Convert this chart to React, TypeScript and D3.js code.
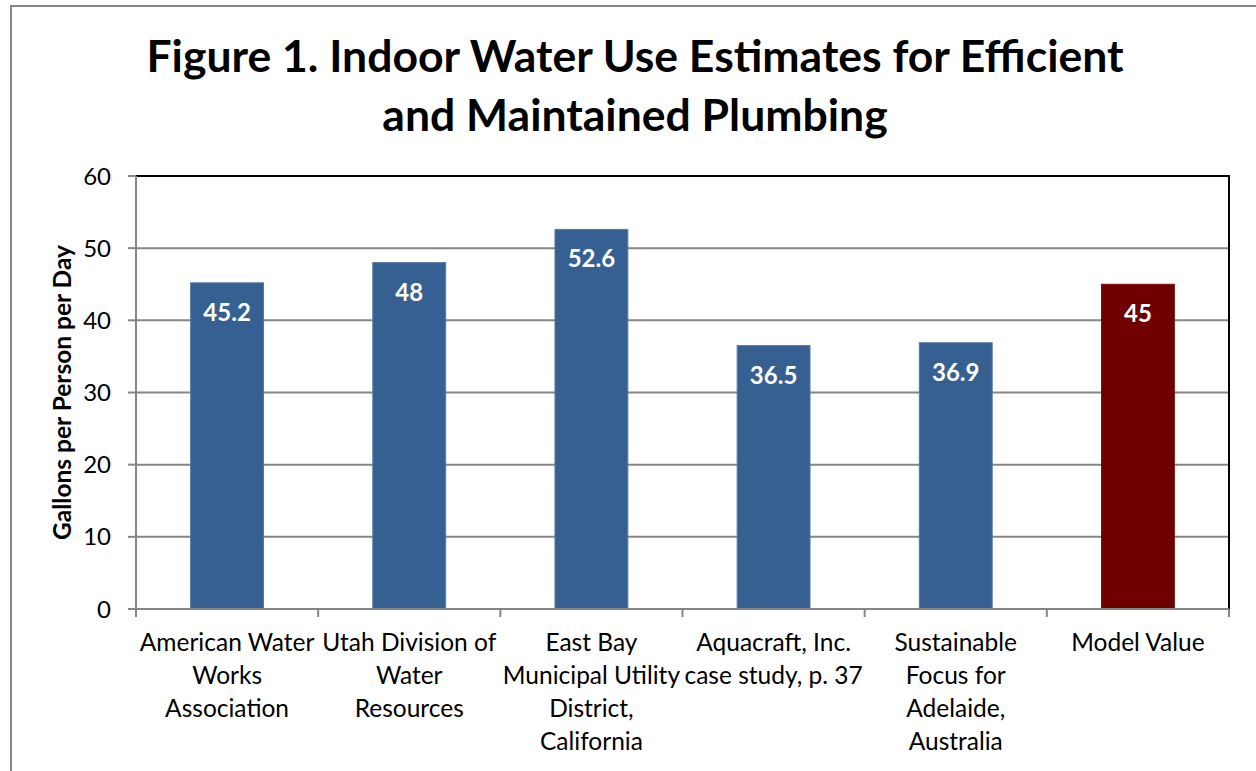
import * as d3 from 'd3';

const categories: string[][] = [
  ['American Water', 'Works', 'Association'],
  ['Utah Division of', 'Water', 'Resources'],
  ['East Bay', 'Municipal Utility', 'District,', 'California'],
  ['Aquacraft, Inc.', 'case study, p. 37'],
  ['Sustainable', 'Focus for', 'Adelaide,', 'Australia'],
  ['Model Value'],
];
const values = [45.2, 48, 52.6, 36.5, 36.9, 45];
const barColors = ['#376092', '#376092', '#376092', '#376092', '#376092', '#700000'];
const yTicks = [0, 10, 20, 30, 40, 50, 60];
const titleLines = ['Figure 1. Indoor Water Use Estimates for Efficient', 'and Maintained Plumbing'];
const yLabel = 'Gallons per Person per Day';

const W = 1256;
const H = 771;
const font = 'Lato, "Open Sans", sans-serif';

export default function App() {
  const plot = { left: 136, top: 176, right: 1229, bottom: 609 };

  const x = d3
    .scaleBand<number>()
    .domain(d3.range(values.length))
    .range([plot.left, plot.right]);

  const y = d3.scaleLinear().domain([0, 60]).range([plot.bottom, plot.top]);

  // Excel gap width 150%: bar = band / 2.5
  const barW = x.bandwidth() / 2.5;
  const bounds = d3.range(values.length + 1).map((i) => plot.left + i * x.step());

  return (
    <svg
      width={W}
      height={H}
      style={{ position: 'absolute', left: 0, top: 0, background: '#fff' }}
      fontFamily={font}
    >
      {/* outer frame */}
      <rect x={11} y={6} width={W} height={H} fill="#fff" stroke="#868686" strokeWidth={2} />

      {/* title */}
      {titleLines.map((t, i) => (
        <text
          key={t}
          x={635}
          y={72 + i * 59}
          textAnchor="middle"
          fontSize={44.5}
          fontWeight={700}
          fill="#000"
        >
          {t}
        </text>
      ))}

      {/* grid lines */}
      {yTicks.slice(1).map((t) => (
        <line
          key={t}
          x1={plot.left}
          x2={plot.right}
          y1={y(t)}
          y2={y(t)}
          stroke="#868686"
          strokeWidth={2}
        />
      ))}

      {/* plot border top + right */}
      <polyline
        points={`${plot.left},${plot.top} ${plot.right},${plot.top} ${plot.right},${plot.bottom}`}
        fill="none"
        stroke="#000"
        strokeWidth={2}
      />

      {/* bars */}
      {values.map((v, i) => {
        const cx = (x(i) as number) + x.bandwidth() / 2;
        return (
          <g key={i}>
            <rect
              x={cx - barW / 2}
              y={y(v)}
              width={barW}
              height={y(0) - y(v)}
              fill={barColors[i]}
              stroke={i === 5 ? '#7a1010' : '#5578a5'}
              strokeWidth={1}
            />
            <text
              x={cx}
              y={y(v) + 38}
              textAnchor="middle"
              fontSize={24}
              fontWeight={700}
              fill="#fff"
            >
              {v}
            </text>
          </g>
        );
      })}

      {/* y axis */}
      <line x1={plot.left} x2={plot.left} y1={plot.top} y2={plot.bottom} stroke="#868686" strokeWidth={2} />
      {yTicks.map((t) => (
        <g key={t}>
          <line x1={plot.left - 8} x2={plot.left} y1={y(t)} y2={y(t)} stroke="#868686" strokeWidth={2} />
          <text
            x={111}
            y={y(t)}
            dy="0.36em"
            textAnchor="end"
            fontSize={24}
            fill="#000"
          >
            {t}
          </text>
        </g>
      ))}

      {/* x axis */}
      <line x1={plot.left} x2={plot.right} y1={plot.bottom} y2={plot.bottom} stroke="#868686" strokeWidth={2} />
      {bounds.map((b, i) => (
        <line key={i} x1={b} x2={b} y1={plot.bottom} y2={plot.bottom + 8} stroke="#868686" strokeWidth={2} />
      ))}
      {categories.map((lines, i) => (
        <text
          key={i}
          x={(x(i) as number) + x.bandwidth() / 2}
          y={651}
          textAnchor="middle"
          fontSize={24.5}
          fill="#000"
        >
          {lines.map((l, j) => (
            <tspan key={j} x={(x(i) as number) + x.bandwidth() / 2} y={651 + j * 33}>
              {l}
            </tspan>
          ))}
        </text>
      ))}

      {/* y axis label */}
      <text
        transform={`translate(71,${(plot.top + plot.bottom) / 2}) rotate(-90)`}
        textAnchor="middle"
        fontSize={24.5}
        fontWeight={700}
        fill="#000"
      >
        {yLabel}
      </text>
    </svg>
  );
}
